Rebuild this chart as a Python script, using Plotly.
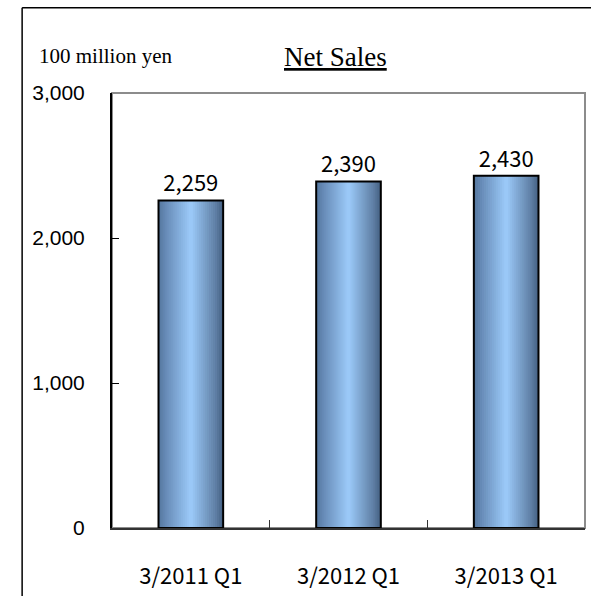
import plotly.graph_objects as go

categories = ["3/2011 Q1", "3/2012 Q1", "3/2013 Q1"]
net_sales = [2259, 2390, 2430]
value_labels = ["2,259", "2,390", "2,430"]
y_ticks = [0, 1000, 2000, 3000]
y_tick_labels = ["0", "1,000", "2,000", "3,000"]

W = 0.41
N = 32
stops = [(0.0, (84, 118, 158)), (0.12, (104, 140, 184)), (0.5, (156, 203, 250)),
         (0.88, (96, 128, 166)), (1.0, (68, 96, 130))]


def grad(t):
    for (t0, c0), (t1, c1) in zip(stops[:-1], stops[1:]):
        if t0 <= t <= t1:
            f = (t - t0) / (t1 - t0)
            return "rgb(%d,%d,%d)" % tuple(round(a + (b - a) * f) for a, b in zip(c0, c1))
    return "rgb(%d,%d,%d)" % stops[-1][1]


fig = go.Figure()
sw = W / N
for i in range(N):
    t = (i + 0.5) / N
    wi = sw * 1.6 if i < N - 1 else sw
    fig.add_trace(go.Bar(
        x=categories, y=net_sales, width=wi, offset=-W / 2 + i * sw,
        marker=dict(color=grad(t), line=dict(width=0)),
        hoverinfo="skip", showlegend=False,
    ))

fig.add_trace(go.Bar(
    x=categories, y=net_sales, width=W, offset=-W / 2,
    marker=dict(color="rgba(0,0,0,0)", line=dict(color="black", width=2)),
    text=value_labels, textposition="outside", cliponaxis=False,
    textfont=dict(family="Noto Sans CJK JP", size=22, color="black"),
    showlegend=False,
))

fig.update_layout(
    width=591, height=596,
    margin=dict(l=112, r=6, t=93, b=65),
    paper_bgcolor="white", plot_bgcolor="white",
    barmode="overlay",
    xaxis=dict(
        type="category", showline=True, linecolor="#333333", linewidth=2,
        ticks="inside", ticklen=8, tickcolor="#333333", tickwidth=1,
        tickson="boundaries", showgrid=False, ticklabelstandoff=28,
        tickfont=dict(family="Noto Sans CJK JP", size=22, color="black"),
    ),
    yaxis=dict(
        range=[0, 3000], tickvals=y_ticks, ticktext=y_tick_labels,
        showline=True, linecolor="black", linewidth=2,
        ticks="inside", ticklen=7, tickcolor="black", tickwidth=1,
        showgrid=False, zeroline=False, ticklabelstandoff=21,
        tickfont=dict(family="Liberation Sans", size=21, color="black"),
    ),
    shapes=[
        dict(type="rect", xref="paper", yref="paper", x0=0, x1=1, y0=0, y1=1,
             line=dict(color="#8c8c8c", width=2), layer="below"),
        dict(type="line", xref="paper", yref="paper", x0=-0.19, x1=1.02, y0=1.196, y1=1.196,
             line=dict(color="black", width=1.5)),
        dict(type="line", xref="paper", yref="paper", x0=-0.19, x1=-0.19, y0=1.196, y1=-0.2,
             line=dict(color="black", width=1.5)),
    ],
    annotations=[
        dict(text="100 million yen", xref="paper", yref="paper", x=-0.1586, y=1.0845,
             xanchor="left", yanchor="middle", showarrow=False,
             font=dict(family="Liberation Serif", size=21, color="black")),
        dict(text="<u>Net Sales</u>", xref="paper", yref="paper", x=0.4715, y=1.0822,
             xanchor="center", yanchor="middle", showarrow=False,
             font=dict(family="Liberation Serif", size=27, color="black")),
    ],
)

fig.write_html("out.html", config={"displayModeBar": False},
               post_script="document.body.style.margin='0';document.body.style.overflow='hidden';")
